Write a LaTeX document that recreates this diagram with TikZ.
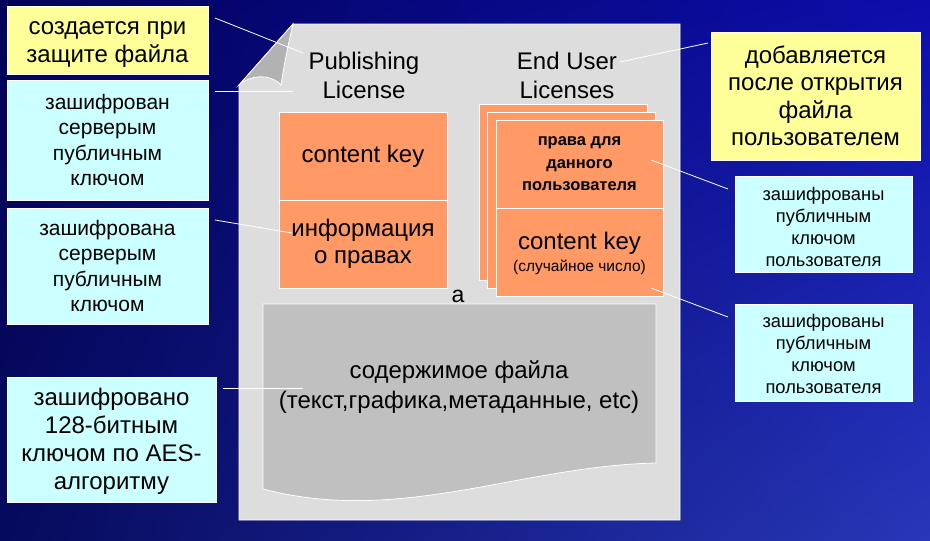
\documentclass[tikz,border=0pt]{standalone}
\usepackage{fontspec}
\usetikzlibrary{shadings}
\setmainfont{Liberation Sans}
\newcommand\fsz[2]{\fontsize{#1}{#2}\selectfont}
\definecolor{yel}{RGB}{255,255,153}
\definecolor{cya}{RGB}{204,255,255}
\definecolor{ora}{RGB}{255,153,102}
\definecolor{pagegray}{RGB}{221,221,221}
\definecolor{foldgray}{RGB}{178,178,178}
\definecolor{contgray}{RGB}{192,192,192}
\definecolor{bgul}{RGB}{2,2,88}
\definecolor{bgll}{RGB}{6,10,92}
\definecolor{bgur}{RGB}{12,14,172}
\definecolor{bglr}{RGB}{40,55,185}
\tikzset{
  box/.style={draw=white,line width=0.8pt,inner sep=0pt,align=center,text=black},
  ybox/.style={box,fill=yel},
  cbox/.style={box,fill=cya},
  obox/.style={box,fill=ora},
  leader/.style={draw=white,line width=0.8pt},
  plain/.style={inner sep=0pt,align=center,text=black},
}
\begin{document}
\begin{tikzpicture}[x=1pt,y=-1pt]
\useasboundingbox (0,0) rectangle (930,541);
\shade[upper left=bgul,lower left=bgll,upper right=bgur,lower right=bglr] (0,0) rectangle (930,541);

% page
\draw[fill=pagegray,draw=white,line width=0.8pt] (293,24) -- (680,24) -- (680,520) -- (239,520) -- (239,85) -- cycle;
\draw[fill=foldgray,draw=white,line width=0.8pt] (293,24) -- (239,85) .. controls (250,75) and (270,73) .. (281,85) .. controls (284,65) and (288,45) .. (293,24) -- cycle;

% titles
\node[plain,font=\fsz{24}{29}] (pl) at (364,75) {Publishing\\License};
\node[plain,font=\fsz{24}{29}] (eul) at (567,75) {End User\\Licenses};

% publishing license boxes
\node[obox,minimum width=168pt,minimum height=88pt,font=\fsz{24}{28}] (ck) at (363,156) {content key};
\node[obox,minimum width=168pt,minimum height=88pt,font=\fsz{24}{27}] (inf) at (363,244) {информация\\о правах};

% end user license stack
\node[obox,minimum width=168pt,minimum height=176pt] (back) at (563,192) {};
\node[obox,minimum width=168pt,minimum height=176pt] (mid) at (571,200) {};
\node[obox,minimum width=167pt,minimum height=88pt,font=\bfseries\fsz{16.5}{22.5}] (rights) at (579.5,164) {права для\\данного\\пользователя};
\node[obox,minimum width=167pt,minimum height=88pt] (eck) at (579.5,252) {};
\node[plain,font=\fsz{24}{28}] (ecktxt) at (579.5,243) {content key};
\node[plain,font=\fsz{15.5}{18}] (rnd) at (579.5,267) {(случайное число)};

\node[plain,font=\fsz{23}{28}] (a) at (458,296) {a};

% content
\draw[fill=contgray,draw=white,line width=0.8pt] (263,304) -- (656,304) -- (656,463) .. controls (520,466) and (400,525) .. (263,489) -- cycle;
\node[plain,font=\fsz{24}{30}] (cont) at (459,387) {содержимое файла\\(текст,графика,метаданные, etc)};

% callout boxes
\node[ybox,minimum width=201pt,minimum height=68pt] (ytl) at (107.5,40) {};
\node[plain,font=\fsz{24}{28}] (ytltxt) at (107.5,45) {создается при\\защите файла};
\node[cbox,minimum width=201pt,minimum height=120pt,font=\fsz{21}{25.3}] (c1) at (107.5,140) {зашифрован\\серверым\\публичным\\ключом};
\node[cbox,minimum width=201pt,minimum height=116pt,font=\fsz{21}{25.3}] (c2) at (107.5,266) {зашифрована\\серверым\\публичным\\ключом};
\node[cbox,minimum width=209pt,minimum height=125pt] (c3) at (111.5,439.5) {};
\node[plain,font=\fsz{24}{28}] (c3txt) at (111.5,441.5) {зашифровано\\128-битным\\ключом по AES-\\алгоритму};
\node[ybox,minimum width=209pt,minimum height=128pt,font=\fsz{24}{27.5}] (yr) at (815.5,96) {добавляется\\после открытия\\файла\\пользователем};
\node[cbox,minimum width=177pt,minimum height=96pt] (cr1) at (823.5,224) {};
\node[plain,font=\fsz{18.3}{22}] (cr1txt) at (823.5,227) {зашифрованы\\публичным\\ключом\\пользователя};
\node[cbox,minimum width=177pt,minimum height=97pt] (cr2) at (823.5,352.5) {};
\node[plain,font=\fsz{18.3}{22}] (cr2txt) at (823.5,354) {зашифрованы\\публичным\\ключом\\пользователя};

% leader ends
\coordinate (l1a) at (215,18);  \coordinate (l1b) at (303,53);
\coordinate (l2a) at (215,91);  \coordinate (l2b) at (293,91);
\coordinate (l3a) at (708,43);  \coordinate (l3b) at (620,62);
\coordinate (l4a) at (651,160); \coordinate (l4b) at (728,189);
\coordinate (l5a) at (651,288); \coordinate (l5b) at (728,317);
\coordinate (l6a) at (215,220); \coordinate (l6b) at (292,233);
\coordinate (l7a) at (223,388); \coordinate (l7b) at (303,388);
\draw[leader] (l1a) -- (l1b);
\draw[leader] (l2a) -- (l2b);
\draw[leader] (l3a) -- (l3b);
\draw[leader] (l4a) -- (l4b);
\draw[leader] (l5a) -- (l5b);
\draw[leader] (l6a) -- (l6b);
\draw[leader] (l7a) -- (l7b);
\end{tikzpicture}
\end{document}
